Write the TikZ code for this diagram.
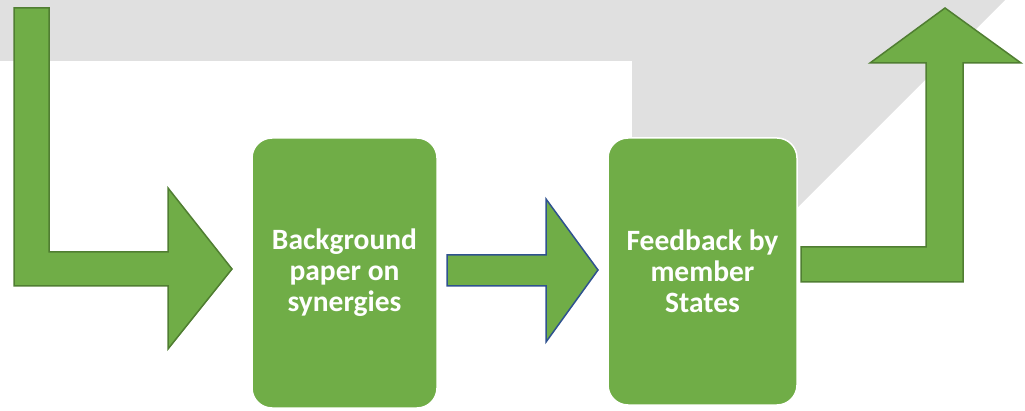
\documentclass[tikz,border=0pt]{standalone}
\usepackage{fontspec}
\setmainfont{Carlito}
\usepackage{tikz}
\definecolor{leaf}{HTML}{70AD47}
\definecolor{leafdark}{HTML}{507E32}
\definecolor{navy}{HTML}{2F528F}
\definecolor{backdropgray}{HTML}{E0E0E0}

\begin{document}
\begin{tikzpicture}[x=1pt,y=-1pt]
	\useasboundingbox (0,0) rectangle (1025,411);
	\tikzset{stagebox/.style={draw=white, line width=1.5pt, fill=leaf, rounded corners=20pt, inner sep=0pt,
		text=white, align=center, font=\bfseries\fontsize{29.5}{31}\selectfont}}

	\fill[backdropgray] (0,0) -- (1005,0) -- (632,373) -- (632,61) -- (0,61) -- cycle;	% backdrop

	\fill[leaf, draw=leafdark, line width=1.5pt] (14,8) -- (49,8) -- (49,252) -- (168,252) -- (168,188)
		-- (232,269) -- (168,349) -- (168,286) -- (14,286) -- cycle;	% in

	\node[stagebox, minimum width=185pt, minimum height=270pt] (B) at (344.5,273) {Background\\paper on\\synergies};

	\fill[leaf, draw=navy, line width=1.5pt] (447,255) -- (546,255) -- (546,199) -- (598,270)
		-- (546,342) -- (546,286) -- (447,286) -- cycle;	% step

	\node[stagebox, minimum width=189pt, minimum height=267pt] (F) at (702.5,271.5) {Feedback by\\member\\States};

	\fill[leaf, draw=leafdark, line width=1.5pt] (801,247) -- (926,247) -- (926,63) -- (870,63) -- (945,8)
		-- (1021,63) -- (963,63) -- (963,282) -- (801,282) -- cycle;	% out
\end{tikzpicture}
\end{document}
